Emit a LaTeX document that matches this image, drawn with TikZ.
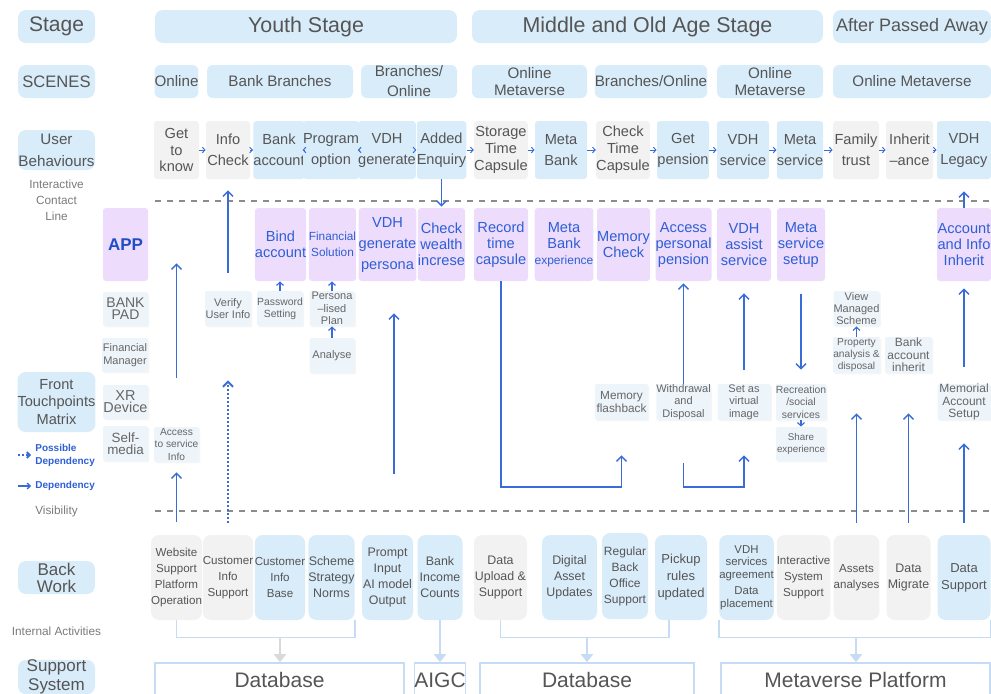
\documentclass[tikz,border=0pt]{standalone}
\usepackage{fontspec}
\setmainfont{Liberation Sans}
\usepackage{tikz}
\usetikzlibrary{arrows.meta,positioning,shadows}

\definecolor{boxblue}{HTML}{D9ECFA}
\definecolor{boxgray}{HTML}{F2F2F2}
\definecolor{boxpurple}{HTML}{EEDCFC}
\definecolor{tpfill}{HTML}{EDF4FA}
\definecolor{txtgray}{HTML}{555555}
\definecolor{notegray}{HTML}{7A7A7A}
\definecolor{txtblue}{HTML}{2D5FD6}
\definecolor{appblue}{HTML}{1F4DC6}
\definecolor{arrblue}{HTML}{3A6CD9}
\definecolor{brkblue}{HTML}{C6DCF4}
\definecolor{sinkgray}{HTML}{D9D9D9}
\definecolor{linegray}{HTML}{8C8C8C}

\newcommand{\fsz}[2]{\fontsize{#1}{#2}\selectfont}

\tikzset{
    every node/.style={inner sep=0pt, align=center, text=txtgray},
    sz/.style 2 args={minimum width=#1*0.5pt, minimum height=#2*0.5pt},
    lbl/.style={fill=boxblue, rounded corners=4pt},
    note/.style={text=notegray, font=\fsz{5.9}{8}},
    legend/.style={text=txtblue, align=left, font=\bfseries\fsz{5}{6.5}},
    stg/.style={fill=boxblue, rounded corners=4pt, font=\fsz{10.7}{12}},
    scn/.style={fill=boxblue, rounded corners=3pt, font=\fsz{7.6}{8.5}},
    ub/.style={rounded corners=1.5pt, font=\fsz{7.3}{10.5}},
    ubg/.style={ub, fill=boxgray},
    ubb/.style={ub, fill=boxblue},
    tight/.style={font=\fsz{7.3}{8.4}},
    act/.style={fill=boxpurple, rounded corners=1.5pt, text=txtblue, font=\fsz{7.3}{8}},
    tp/.style={fill=tpfill, rounded corners=1pt, text=txtgray!90, font=\fsz{5.5}{6.2},
        drop shadow={opacity=0.08, shadow xshift=0.7pt, shadow yshift=-0.7pt}},
    bw/.style={rounded corners=4pt, font=\fsz{5.8}{8}},
    bwg/.style={bw, fill=boxgray},
    bwb/.style={bw, fill=boxblue},
    sys/.style={draw=brkblue, line width=0.8pt, fill=white, font=\fsz{10.5}{12}},
    contact/.style={draw=linegray, line width=0.6pt, dash pattern=on 3pt off 3pt},
    dep/.style={draw=arrblue, line width=0.7pt, -{Straight Barb[length=2.5pt,width=5pt]}},
    pdep/.style={dep, line width=1pt, dash pattern=on 1pt off 1pt},
    small/.style={draw=arrblue, line width=0.6pt, -{Straight Barb[length=1.6pt,width=3.4pt]}},
    nxt/.style={draw=arrblue, line width=0.5pt, -{Straight Barb[length=1.3pt,width=2.8pt]}},
    brk/.style={draw=brkblue, line width=0.9pt},
    sink/.style={draw=brkblue, line width=0.9pt, -{Triangle[length=4pt,width=6pt]}},
    sinkg/.style={sink, draw=sinkgray, fill=sinkgray}
}

\begin{document}
\begin{tikzpicture}[x=0.5pt, y=-0.5pt]
    \useasboundingbox (0,0) rectangle (991,693);
    \clip (0,0) rectangle (991,693);

    % left column
    \node[lbl, sz={77}{33}, font=\fsz{10.5}{12}] (stage) at (56.5,26.5) {Stage};
    \node[lbl, sz={77}{33}, font=\fsz{8.3}{10}] (scenes) at (56.5,81.5) {SCENES};
    \node[lbl, sz={77}{40}, font=\fsz{7.6}{11}] (userb) at (56.5,150) {User\\Behaviours};
    \node[note] (contactline) at (56.5,200) {Interactive\\Contact\\Line};
    \node[lbl, sz={77}{60}, font=\fsz{7.3}{8.9}] (front) at (56.5,402) {Front\\Touchpoints\\Matrix};
    \coordinate (pdone) at (18,455);
    \coordinate (pdtwo) at (31,455);
    \draw[pdep, -{Straight Barb[length=1.4pt,width=3pt]}] (pdone) -- (pdtwo);
    \node[legend, anchor=west] (possible) at (35,455.5) {Possible\\Dependency};
    \coordinate (dpone) at (18,486);
    \coordinate (dptwo) at (31,486);
    \draw[dep, -{Straight Barb[length=1.4pt,width=3pt]}] (dpone) -- (dptwo);
    \node[legend, anchor=west] (dependency) at (35,486) {Dependency};
    \node[note] (visibility) at (56.5,511) {Visibility};
    \node[lbl, sz={77}{33}, font=\fsz{8.5}{8.5}] (backwork) at (56.5,577.5) {Back\\Work};
    \node[note] (internal) at (56.5,631) {Internal Activities};
    \node[lbl, sz={77}{34}, font=\fsz{8.5}{9.5}] (support) at (56.5,677) {Support\\System};

    % stages and scenes
    \node[stg, sz={302}{33}] (youth) at (306,26.5) {Youth Stage};
    \node[stg, sz={351}{33}] (middle) at (647.5,26.5) {Middle and Old Age Stage};
    \node[stg, sz={158}{33}, font=\fsz{9}{12}] (after) at (912,26.5) {After Passed Away};

    \node[scn, sz={43}{33}] (online) at (176.5,81.5) {Online};
    \node[scn, sz={146}{33}] (branches) at (280,81.5) {Bank Branches};
    \node[scn, sz={96}{33}, font=\fsz{7.6}{10}] (bronline) at (409,81.5) {Branches/\\Online};
    \node[scn, sz={115}{33}] (metaone) at (529.5,81.5) {Online\\Metaverse};
    \node[scn, sz={112}{33}] (brontwo) at (651,81.5) {Branches/Online};
    \node[scn, sz={106}{33}] (metatwo) at (770,81.5) {Online\\Metaverse};
    \node[scn, sz={158}{33}] (metathree) at (912,81.5) {Online Metaverse};

    % user behaviours
    \node[ubg, sz={45}{58}, tight] (know) at (176.5,150) {Get\\to\\know};
    \node[ubg, sz={44}{58}] (infochk) at (228,150) {Info\\Check};
    \node[ubb, sz={48}{58}] (bankacc) at (279,150) {Bank\\account};
    \node[ubb, sz={44}{58}] (progopt) at (331,150) {Program\\option};
    \node[ubb, sz={52}{58}] (vdhgen) at (387,150) {VDH\\generate};
    \node[ubb, sz={44}{58}] (addenq) at (441.5,150) {Added\\Enquiry};
    \node[ubg, sz={52}{58}, tight] (storage) at (501,150) {Storage\\Time\\Capsule};
    \node[ubb, sz={52}{58}] (metabank) at (561,150) {Meta\\Bank};
    \node[ubg, sz={52}{58}, tight] (chktime) at (623,150) {Check\\Time\\Capsule};
    \node[ubb, sz={52}{58}] (getpen) at (683,150) {Get\\pension};
    \node[ubb, sz={52}{58}] (vdhserv) at (743,150) {VDH\\service};
    \node[ubb, sz={46}{58}] (metaserv) at (800,150) {Meta\\service};
    \node[ubg, sz={46}{58}] (family) at (856,150) {Family\\trust};
    \node[ubg, sz={47}{58}] (inherit) at (909.5,150) {Inherit\\--ance};
    \node[ubb, sz={54}{58}] (legacy) at (964,150) {VDH\\Legacy};

    \path (know) edge[nxt] (infochk);
    \path (infochk) edge[nxt] (bankacc);
    \path (bankacc) edge[nxt] (progopt);
    \path (progopt) edge[nxt] (vdhgen);
    \path (vdhgen) edge[nxt] (addenq);
    \path (addenq) edge[nxt] (storage);
    \path (storage) edge[nxt] (metabank);
    \path (metabank) edge[nxt] (chktime);
    \path (chktime) edge[nxt] (getpen);
    \path (getpen) edge[nxt] (vdhserv);
    \path (vdhserv) edge[nxt] (metaserv);
    \path (metaserv) edge[nxt] (family);
    \path (family) edge[nxt] (inherit);
    \path (inherit) edge[nxt] (legacy);

    \draw[contact] (155,201) -- (991,201);

    % front touchpoints
    \node[act, sz={45}{73}, text=appblue, font=\bfseries\fsz{8.5}{10}] (app) at (125.5,244.5) {APP};
    \node[act, sz={45}{73}] (bind) at (280.5,244.5) {Bind\\account};
    \node[act, sz={47}{73}, font=\fsz{5.9}{8}] (finsol) at (332.5,244.5) {Financial\\Solution};
    \node[act, sz={53}{73}, font=\fsz{7.3}{10.5}] (vdhpers) at (387.5,244.5) {VDH\\generate\\persona};
    \node[act, sz={46}{73}] (wealth) at (441.5,244.5) {Check\\wealth\\increse};
    \node[act, sz={54}{73}] (record) at (501,244.5) {Record\\time\\capsule};
    \node[act, sz={54}{73}] (metaexp) at (564,244.5) {Meta\\Bank\\{\fsz{6}{8}experience}};
    \node[act, sz={53}{73}] (memchk) at (623.5,244.5) {Memory\\Check};
    \node[act, sz={53}{73}] (accpen) at (683.5,244.5) {Access\\personal\\pension};
    \node[act, sz={54}{73}] (assist) at (744,244.5) {VDH\\assist\\service};
    \node[act, sz={48}{73}] (metasetup) at (801,244.5) {Meta\\service\\setup};
    \node[act, sz={54}{73}] (accinh) at (964,244.5) {Account\\and Info\\Inherit};

    \node[tp, sz={45}{34}, font=\fsz{7}{5.9}] (bankpad) at (125.5,309) {BANK\\PAD};
    \node[tp, sz={46}{34}] (finman) at (125,355) {Financial\\Manager};
    \node[tp, sz={45}{34}, font=\fsz{7.2}{5.9}] (xrdevice) at (125.5,402) {XR\\Device};
    \node[tp, sz={45}{35}, font=\fsz{6.7}{6.2}] (selfmedia) at (125.5,443.5) {Self-\\media};

    \node[tp, sz={46}{35}] (verify) at (228,308.5) {Verify\\User Info};
    \node[tp, sz={45}{35}, font=\fsz{5.2}{6.2}] (pwd) at (280,308.5) {Password\\Setting};
    \node[tp, sz={45}{35}] (plan) at (332,308.5) {Persona\\--lised\\Plan};
    \node[tp, sz={45}{35}] (analyse) at (332,355.5) {Analyse};
    \node[tp, sz={45}{35}, font=\fsz{5.1}{6.2}] (access) at (176.5,444.5) {Access\\to service\\Info};
    \node[tp, sz={46}{35}] (viewman) at (856.5,308.5) {View\\Managed\\Scheme};
    \node[tp, sz={47}{36}, font=\fsz{5.1}{6.2}] (property) at (856.5,355) {Property\\analysis \&\\disposal};
    \node[tp, sz={47}{36}, font=\fsz{6}{6.2}] (bankinh) at (908.5,355) {Bank\\account\\inherit};
    \node[tp, sz={53}{36}, font=\fsz{6}{6.2}] (memorial) at (964,402) {Memorial\\Account\\Setup};
    \node[tp, sz={53}{36}, font=\fsz{5.9}{6.2}] (flashback) at (621.5,402) {Memory\\flashback};
    \node[tp, sz={53}{36}] (withdraw) at (683.5,402) {Withdrawal\\and\\Disposal};
    \node[tp, sz={53}{36}] (virtual) at (744,402) {Set as\\virtual\\image};
    \node[tp, sz={48}{36}, font=\fsz{5.2}{6.2}] (recreation) at (801,402) {Recreation\\/social\\services};
    \node[tp, sz={50}{34}, font=\fsz{4.9}{6.2}] (share) at (801,444) {Share\\experience};

    \draw[contact] (155,511) -- (991,511);

    % back work
    \node[bwg, sz={45}{85}] (website) at (176.5,577.5) {Website\\Support\\Platform\\Operation};
    \node[bwg, sz={44}{85}] (custsup) at (228,577.5) {Customer\\Info\\Support};
    \node[bwb, sz={44}{85}] (custbase) at (280,577.5) {Customer\\Info\\Base};
    \node[bwb, sz={45}{85}, font=\fsz{6.2}{8}] (scheme) at (331.5,577.5) {Scheme\\Strategy\\Norms};
    \node[bwb, sz={51}{85}, font=\fsz{6.2}{8}] (prompt) at (387.5,577.5) {Prompt\\Input\\AI model\\Output};
    \node[bwb, sz={45}{85}, font=\fsz{6.2}{8}] (income) at (440,577.5) {Bank\\Income\\Counts};
    \node[bwg, sz={53}{85}, font=\fsz{6.2}{8}] (upload) at (500.5,577.5) {Data\\Upload \&\\Support};
    \node[bwb, sz={55}{85}, font=\fsz{6.2}{8}] (digital) at (569.5,577.5) {Digital\\Asset\\Updates};
    \node[bwb, sz={46}{86}, font=\fsz{6}{8}] (regular) at (625,576) {Regular\\Back\\Office\\Support};
    \node[bwb, sz={52}{85}, font=\fsz{6.5}{8.5}] (pickup) at (681,577.5) {Pickup\\rules\\updated};
    \node[bwb, sz={53}{85}, font=\fsz{5.7}{6.4}] (vdhagree) at (746.5,577.5) {VDH\\services\\agreement\\[1.5pt]Data\\placement};
    \node[bwg, sz={53}{85}] (interact) at (803.5,577.5) {Interactive\\System\\Support};
    \node[bwg, sz={45}{85}] (assets) at (856.5,577.5) {Assets\\analyses};
    \node[bwg, sz={44}{85}, font=\fsz{6.2}{8}] (migrate) at (908.5,577.5) {Data\\Migrate};
    \node[bwb, sz={53}{85}, font=\fsz{6.5}{8.5}] (datasup) at (964,577.5) {Data\\Support};

    % support system
    \node[sys, sz={249}{34}] (dbone) at (279.5,680) {Database};
    \node[sys, sz={51}{34}] (aigc) at (440,680) {AIGC};
    \node[sys, sz={214}{34}] (dbtwo) at (587,680) {Database};
    \node[sys, sz={269}{34}] (metaplat) at (855.5,680) {Metaverse Platform};

    \draw[brk] (website.south) -- ++(0,17) -| (scheme.south east);
    \draw[brk] (upload.south) -- ++(0,17) -| ([xshift=-6pt]pickup.south);
    \draw[brk] (vdhagree.south west) -- ++(0,17) -| (datasup.south east);
    \coordinate (bone) at (280,637);
    \coordinate (btwo) at (587,637);
    \coordinate (bthree) at (856,637);
    \draw[sinkg] (bone) -- (bone |- dbone.north);
    \draw[sink] (income) -- (aigc);
    \draw[sink] (btwo) -- (btwo |- dbtwo.north);
    \draw[sink] (bthree) -- (bthree |- metaplat.north);

    % dependencies
    \draw[dep, shorten <=9pt, shorten >=5.5pt] (verify) -- (infochk);
    \draw[pdep, shorten <=6pt, shorten >=27pt] (custsup) -- (verify);
    \draw[dep, shorten <=6.5pt, shorten >=5pt] (website) -- (access);
    \draw[dep, shorten <=24.5pt, shorten >=42pt] (access) -- (know);
    \draw[dep, shorten >=0.5pt] (addenq) -- (wealth);
    \draw[small] (pwd) -- (bind.south -| pwd);
    \draw[small] (plan) -- (finsol.south -| plan);
    \draw[small] (analyse) -- (plan);
    \coordinate (pa) at (394,474);
    \draw[dep, shorten >=16pt] (pa) -- (pa |- vdhpers.south);
    \coordinate (turn) at (0,487);
    \draw[dep, shorten >=17.5pt] (record) -- (record |- turn) -| (flashback);
    \draw[dep, shorten <=21.5pt, shorten >=17.5pt] (withdraw) -- (withdraw |- turn) -| (virtual);
    \draw[dep, shorten >=1pt] (withdraw) -- (accpen);
    \draw[dep, shorten <=7pt, shorten >=6pt] (virtual) -- (assist);
    \draw[dep, shorten <=6.5pt, shorten >=7pt] (metasetup) -- (recreation);
    \draw[small] (recreation) -- (share);
    \draw[small] (property) -- (viewman);
    \draw[dep, shorten <=6pt, shorten >=20pt] (assets) -- (property);
    \draw[dep, shorten <=6pt, shorten >=20pt] (migrate) -- (bankinh);
    \draw[dep, shorten <=6pt, shorten >=11.5pt] (datasup) -- (memorial);
    \draw[dep, shorten <=8.5pt, shorten >=3.5pt] (memorial) -- (accinh);
    \draw[dep, shorten >=6pt] (accinh) -- (legacy);
\end{tikzpicture}
\end{document}
